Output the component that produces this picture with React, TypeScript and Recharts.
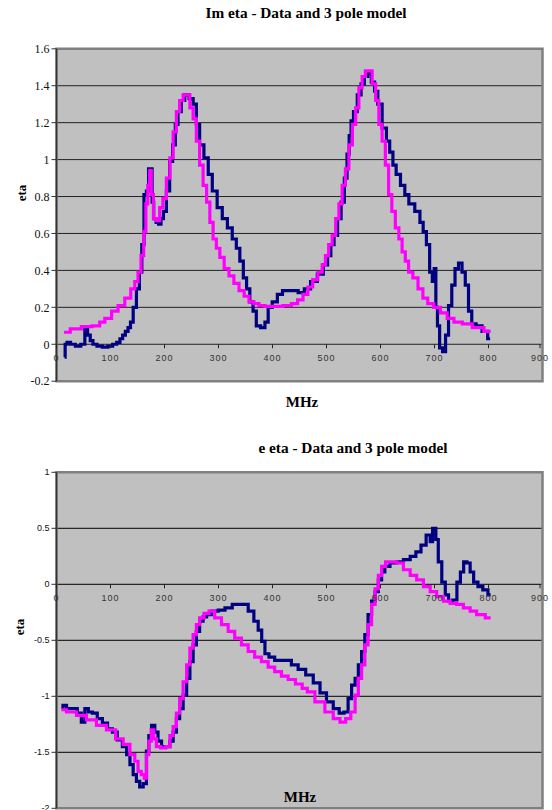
import React from "react";
import { LineChart, Line, XAxis, YAxis, CartesianGrid, ReferenceArea } from "recharts";

// Im eta: measured data
const imDataMhz = [15, 17, 22, 30, 40, 50, 55, 60, 65, 70, 80, 90, 100, 108, 115, 120, 125, 130, 135, 139, 145, 151, 156, 160, 164, 169, 172, 176, 178, 182, 187, 191, 196, 200, 207, 212, 218, 222, 228, 234, 241, 250, 256, 262, 268, 278, 284, 293, 302, 312, 321, 330, 336, 343, 349, 355, 361, 367, 373, 383, 389, 395, 404, 414, 423, 441, 454, 464, 477, 489, 499, 505, 511, 517, 524, 530, 536, 540, 544, 547, 553, 561, 567, 573, 580, 586, 592, 598, 608, 614, 620, 626, 632, 642, 648, 657, 670, 676, 682, 688, 694, 698, 701, 704, 707, 712, 718, 723, 729, 735, 741, 748, 754, 760, 766, 772, 782, 794, 803];
const imDataVal = [-0.07, 0, 0.01, 0, -0.01, 0, 0.09, 0.05, 0.02, 0, -0.01, -0.015, -0.01, 0, 0.01, 0.03, 0.05, 0.07, 0.09, 0.12, 0.2, 0.3, 0.39, 0.54, 0.81, 0.83, 0.95, 0.95, 0.77, 0.68, 0.66, 0.65, 0.68, 0.72, 0.83, 0.99, 1.08, 1.19, 1.26, 1.32, 1.35, 1.33, 1.3, 1.19, 1.08, 1.01, 0.92, 0.83, 0.74, 0.68, 0.63, 0.57, 0.52, 0.45, 0.36, 0.3, 0.23, 0.18, 0.1, 0.09, 0.12, 0.2, 0.23, 0.27, 0.29, 0.29, 0.28, 0.3, 0.34, 0.38, 0.43, 0.48, 0.54, 0.59, 0.68, 0.77, 0.9, 1.03, 1.13, 1.21, 1.26, 1.35, 1.41, 1.45, 1.47, 1.42, 1.37, 1.3, 1.17, 1.1, 1.04, 0.97, 0.92, 0.86, 0.81, 0.76, 0.72, 0.66, 0.61, 0.54, 0.39, 0.34, 0.41, 0.2, 0.1, -0.02, -0.04, 0.05, 0.21, 0.32, 0.41, 0.44, 0.39, 0.32, 0.18, 0.11, 0.1, 0.07, 0.03];

// Im eta: 3 pole model
const imModelMhz = [14, 37, 55, 77, 83, 96, 108, 120, 133, 142, 148, 154, 159, 164, 167, 171, 174, 177, 182, 188, 194, 200, 207, 213, 219, 225, 231, 238, 244, 250, 256, 262, 268, 275, 281, 287, 293, 299, 306, 315, 324, 333, 343, 352, 361, 370, 380, 392, 410, 429, 441, 452, 461, 470, 479, 489, 495, 501, 507, 514, 520, 526, 532, 538, 545, 551, 557, 563, 569, 575, 581, 588, 594, 600, 606, 612, 618, 624, 631, 637, 643, 649, 655, 665, 674, 683, 692, 705, 717, 730, 742, 761, 779, 804];
const imModelVal = [0.065, 0.083, 0.095, 0.1, 0.12, 0.14, 0.18, 0.21, 0.25, 0.3, 0.34, 0.39, 0.48, 0.61, 0.76, 0.86, 0.94, 0.81, 0.68, 0.67, 0.74, 0.79, 0.9, 1.01, 1.15, 1.26, 1.32, 1.35, 1.35, 1.28, 1.22, 1.1, 0.97, 0.86, 0.77, 0.66, 0.57, 0.52, 0.47, 0.41, 0.37, 0.33, 0.29, 0.26, 0.23, 0.22, 0.21, 0.205, 0.205, 0.21, 0.22, 0.24, 0.27, 0.31, 0.35, 0.39, 0.43, 0.48, 0.54, 0.59, 0.68, 0.76, 0.86, 0.95, 1.08, 1.19, 1.28, 1.39, 1.45, 1.48, 1.48, 1.41, 1.32, 1.19, 1.1, 0.97, 0.81, 0.72, 0.63, 0.57, 0.5, 0.45, 0.39, 0.36, 0.3, 0.25, 0.22, 0.2, 0.17, 0.14, 0.12, 0.11, 0.09, 0.07];

// Re eta: measured data
const reDataMhz = [9, 15, 22, 34, 43, 49, 56, 62, 71, 80, 90, 99, 108, 117, 127, 133, 139, 145, 151, 157, 164, 169, 173, 179, 185, 191, 198, 207, 213, 219, 225, 231, 238, 244, 250, 256, 262, 268, 275, 281, 293, 306, 318, 333, 349, 361, 370, 377, 383, 389, 398, 410, 429, 441, 454, 469, 482, 494, 506, 519, 528, 537, 543, 550, 556, 562, 568, 574, 580, 587, 593, 599, 605, 611, 624, 636, 649, 661, 670, 680, 689, 695, 698, 701, 704, 710, 717, 723, 729, 738, 745, 751, 757, 763, 769, 776, 785, 794, 804];
const reDataVal = [-1.1, -1.08, -1.11, -1.11, -1.15, -1.23, -1.11, -1.14, -1.15, -1.2, -1.24, -1.29, -1.32, -1.39, -1.45, -1.52, -1.61, -1.7, -1.76, -1.81, -1.78, -1.49, -1.35, -1.26, -1.32, -1.4, -1.45, -1.45, -1.4, -1.32, -1.2, -1.11, -0.99, -0.84, -0.69, -0.54, -0.42, -0.33, -0.29, -0.27, -0.24, -0.23, -0.21, -0.18, -0.18, -0.24, -0.33, -0.41, -0.51, -0.62, -0.65, -0.68, -0.68, -0.72, -0.76, -0.81, -0.88, -0.97, -1.05, -1.11, -1.15, -1.14, -1.02, -0.9, -0.84, -0.72, -0.6, -0.45, -0.27, -0.15, -0.065, 0.04, 0.11, 0.16, 0.19, 0.2, 0.22, 0.25, 0.29, 0.35, 0.44, 0.38, 0.5, 0.5, 0.4, 0.2, 0.02, -0.095, -0.15, -0.14, 0.02, 0.11, 0.2, 0.19, 0.11, 0.02, -0.02, -0.05, -0.095];

// Re eta: 3 pole model
const reModelMhz = [9, 28, 46, 65, 83, 102, 117, 130, 142, 148, 154, 160, 165, 169, 173, 178, 182, 188, 198, 207, 213, 219, 225, 231, 238, 244, 250, 256, 262, 268, 278, 287, 299, 312, 324, 336, 349, 361, 373, 386, 398, 410, 423, 435, 450, 460, 469, 488, 506, 519, 531, 540, 550, 556, 562, 568, 574, 580, 587, 593, 599, 605, 614, 624, 636, 649, 661, 673, 686, 698, 710, 723, 735, 747, 760, 772, 784, 804];
const reModelVal = [-1.12, -1.14, -1.17, -1.21, -1.26, -1.3, -1.38, -1.43, -1.52, -1.58, -1.67, -1.7, -1.73, -1.52, -1.4, -1.3, -1.38, -1.45, -1.46, -1.45, -1.35, -1.27, -1.15, -1.02, -0.87, -0.72, -0.57, -0.45, -0.36, -0.3, -0.26, -0.24, -0.3, -0.36, -0.42, -0.48, -0.54, -0.6, -0.65, -0.69, -0.74, -0.78, -0.82, -0.85, -0.89, -0.93, -0.96, -1.05, -1.14, -1.2, -1.23, -1.2, -1.14, -0.99, -0.84, -0.72, -0.54, -0.36, -0.18, -0.04, 0.08, 0.16, 0.2, 0.2, 0.19, 0.13, 0.08, 0.04, -0.02, -0.065, -0.11, -0.15, -0.17, -0.18, -0.21, -0.24, -0.27, -0.3];

const xTicks = [0, 100, 200, 300, 400, 500, 600, 700, 800, 900];
const imTicks = [-0.2, 0, 0.2, 0.4, 0.6, 0.8, 1, 1.2, 1.4, 1.6];
const reTicks = [-2, -1.5, -1, -0.5, 0, 0.5, 1];

const zip = (mhz: number[], val: number[]) => mhz.map((m, i) => ({ mhz: m, v: val[i] }));

const SERIF = "'Liberation Serif', 'Times New Roman', serif";
const SANS = "'Liberation Sans', Arial, sans-serif";

interface PanelProps {
  top: number;
  height: number;
  plotTop: number;
  plotHeight: number;
  domain: [number, number];
  yTicks: number[];
  yTickFont: string;
  yTickSize: number;
  gridColor: string;
  data: { mhz: number; v: number }[];
  model: { mhz: number; v: number }[];
}

const Panel: React.FC<PanelProps> = ({ top, height, plotTop, plotHeight, domain, yTicks, yTickFont, yTickSize, gridColor, data, model }) => {
  // y of the zero line inside the svg, where Excel put the category labels
  const zeroY = plotTop + (plotHeight * domain[1]) / (domain[1] - domain[0]);
  const renderXTick = (props: any) => {
    const { x, payload } = props;
    return (
      <g>
        <line x1={x} x2={x} y1={zeroY} y2={zeroY + 4} stroke="#222" />
        <text x={x} y={zeroY + 14} textAnchor="middle" dominantBaseline="central" fontSize={9} letterSpacing={1} fill="#333" fontFamily={SANS}>
          {payload.value}
        </text>
      </g>
    );
  };
  return (
    <div style={{ position: "absolute", left: 0, top }}>
      <LineChart
        width={552}
        height={height}
        margin={{ top: plotTop, right: 9.5, bottom: height - plotTop - plotHeight - 30, left: 6.5 }}
      >
        <CartesianGrid vertical={false} horizontalValues={yTicks} stroke={gridColor} fill="#C0C0C0" fillOpacity={1} />
        <ReferenceArea x1={0} x2={900} y1={domain[0]} y2={domain[1]} fill="none" stroke="#808080" strokeWidth={2.5} />
        <XAxis
          type="number"
          dataKey="mhz"
          domain={[0, 900]}
          ticks={xTicks}
          axisLine={false}
          tickLine={false}
          height={30}
          tick={renderXTick}
        />
        <YAxis
          type="number"
          domain={domain}
          ticks={yTicks}
          width={50}
          axisLine={{ stroke: "#333", strokeWidth: 1.5 }}
          tickLine={{ stroke: "#333" }}
          tickSize={5}
          tick={{ fontSize: yTickSize, fill: "#111", fontFamily: yTickFont }}
          interval={0}
        />
        <Line data={data} dataKey="v" type="step" stroke="#000080" strokeWidth={3.2} dot={false} isAnimationActive={false} />
        <Line data={model} dataKey="v" type="step" stroke="#FF00FF" strokeWidth={3.2} dot={false} isAnimationActive={false} />
      </LineChart>
    </div>
  );
};

const textStyle = (x: number, y: number, size: number, rotate = false): React.CSSProperties => ({
  position: "absolute",
  left: x,
  top: y,
  transform: `translate(-50%, -50%)${rotate ? " rotate(-90deg)" : ""}`,
  whiteSpace: "nowrap",
  fontFamily: SERIF,
  fontWeight: "bold",
  fontSize: size,
  color: "#000",
});

export default function App() {
  return (
    <div style={{ position: "absolute", left: 0, top: 0, width: 552, height: 810, overflow: "hidden", background: "#fff" }}>
      <div style={textStyle(306, 13, 15.3)}>Im eta - Data and 3 pole model</div>
      <Panel
        top={0}
        height={420}
        plotTop={48.8}
        plotHeight={332.4}
        domain={[-0.2, 1.6]}
        yTicks={imTicks}
        yTickFont={SERIF}
        yTickSize={12}
        gridColor="#222"
        data={zip(imDataMhz, imDataVal)}
        model={zip(imModelMhz, imModelVal)}
      />
      <div style={textStyle(22, 193, 13, true)}>eta</div>
      <div style={textStyle(302, 402, 15)}>MHz</div>

      <div style={textStyle(353, 448, 15.3)}>e eta - Data and 3 pole model</div>
      <Panel
        top={430}
        height={410}
        plotTop={42.3}
        plotHeight={336}
        domain={[-2, 1]}
        yTicks={reTicks}
        yTickFont={SANS}
        yTickSize={9}
        gridColor="#000"
        data={zip(reDataMhz, reDataVal)}
        model={zip(reModelMhz, reModelVal)}
      />
      <div style={textStyle(20, 627, 13, true)}>eta</div>
      <div style={textStyle(300, 797, 15)}>MHz</div>
    </div>
  );
}
